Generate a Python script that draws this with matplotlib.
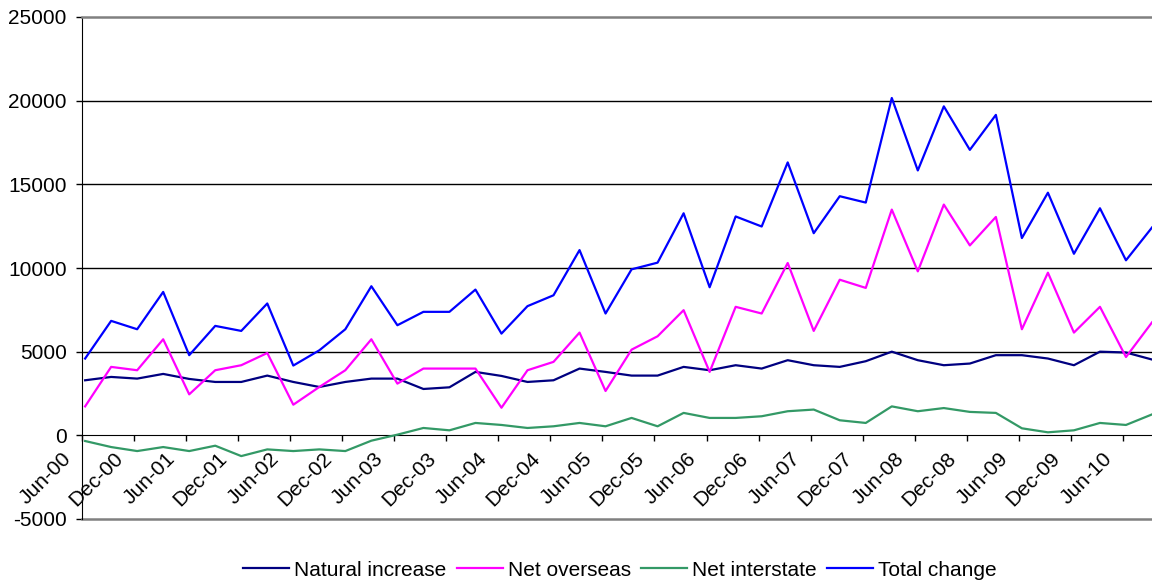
import matplotlib.pyplot as plt
import matplotlib.transforms as mtransforms
import numpy as np

plt.rcParams['font.family'] = ['Liberation Sans', 'DejaVu Sans']
plt.rcParams['axes.unicode_minus'] = False

# half-yearly labels on the category axis (data is quarterly)
tick_labels = ['Jun-00', 'Dec-00', 'Jun-01', 'Dec-01', 'Jun-02', 'Dec-02', 'Jun-03',
               'Dec-03', 'Jun-04', 'Dec-04', 'Jun-05', 'Dec-05', 'Jun-06', 'Dec-06',
               'Jun-07', 'Dec-07', 'Jun-08', 'Dec-08', 'Jun-09', 'Dec-09', 'Jun-10']

natural = [3290, 3490, 3390, 3670, 3370, 3190, 3190, 3570, 3190, 2890, 3190, 3390,
           3390, 2770, 2870, 3790, 3550, 3190, 3290, 3990, 3790, 3570, 3570, 4090,
           3890, 4190, 3990, 4490, 4190, 4090, 4430, 5000, 4490, 4190, 4290, 4790,
           4790, 4590, 4190, 5000, 4950, 4530]
overseas = [1730, 4090, 3890, 5740, 2450, 3890, 4190, 4920, 1830, 2890, 3890, 5740,
            3090, 3990, 3990, 3990, 1650, 3890, 4390, 6140, 2650, 5120, 5920, 7480,
            3790, 7680, 7280, 10300, 6240, 9300, 8810, 13490, 9800, 13790, 11350, 13050,
            6340, 9720, 6140, 7680, 4680, 6750]
interstate = [-340, -700, -940, -700, -940, -620, -1240, -840, -940, -840, -940, -320,
              40, 440, 300, 740, 620, 440, 540, 740, 540, 1040, 540, 1340,
              1040, 1040, 1140, 1440, 1540, 900, 740, 1730, 1440, 1630, 1400, 1340,
              420, 180, 300, 740, 620, 1250]
total = [4590, 6840, 6340, 8570, 4790, 6540, 6240, 7880, 4170, 5080, 6340, 8910,
         6580, 7380, 7380, 8710, 6080, 7720, 8370, 11070, 7280, 9920, 10320, 13270,
         8850, 13080, 12480, 16310, 12080, 14290, 13910, 20160, 15830, 19660, 17060, 19150,
         11790, 14500, 10850, 13570, 10460, 12420]

fig = plt.figure(figsize=(11.52, 5.8), dpi=100)
ax = fig.add_axes([82 / 1152, 1 - 519 / 580, 1 - 82 / 1152, (519 - 17) / 580])

# x axis line sits at zero; set this before the tick labels
ax.spines['bottom'].set_position(('data', 0))
ax.spines['bottom'].set_color('black')
ax.spines['left'].set_color('black')
ax.spines['top'].set_color('#808080')
ax.spines['top'].set_linewidth(1.8)
ax.spines['right'].set_visible(False)
ax.axhline(-5000, color='#808080', lw=1.8, clip_on=False, zorder=2)

x = np.arange(len(total))
ax.plot(x, natural, color='#000080', lw=1.6, label='Natural increase', zorder=3)
ax.plot(x, overseas, color='#FF00FF', lw=1.6, label='Net overseas', zorder=3)
ax.plot(x, interstate, color='#339966', lw=1.6, label='Net interstate', zorder=3)
ax.plot(x, total, color='#0000FF', lw=1.6, label='Total change', zorder=3)

ax.set_xlim(-0.12, 41.0)
ax.set_ylim(-5000, 25000)

for v in [5000, 10000, 15000, 20000]:
    ax.axhline(v, color='black', lw=1, zorder=1)

ax.set_yticks(range(-5000, 25001, 5000))
ax.tick_params(axis='y', direction='out', length=4, width=1, pad=7,
               labelsize=15, colors='black')

ax.set_xticks(np.arange(0, 42, 2) - 0.12)
ax.set_xticklabels(tick_labels)
ax.tick_params(axis='x', direction='out', length=4, width=1, pad=2, labelsize=15)
shift = mtransforms.ScaledTranslation(-7 / 100, -5 / 100, fig.dpi_scale_trans)
for lab in ax.get_xticklabels():
    lab.set_rotation(45)
    lab.set_ha('right')
    lab.set_va('top')
    lab.set_transform(lab.get_transform() + shift)

fig.legend(loc='center', bbox_to_anchor=(620 / 1152, 1 - 570 / 580), ncol=4,
           frameon=False, fontsize=15, handlelength=2.2, handletextpad=0.25,
           columnspacing=0.5, borderaxespad=0)

fig.savefig('out.png', dpi=100)
